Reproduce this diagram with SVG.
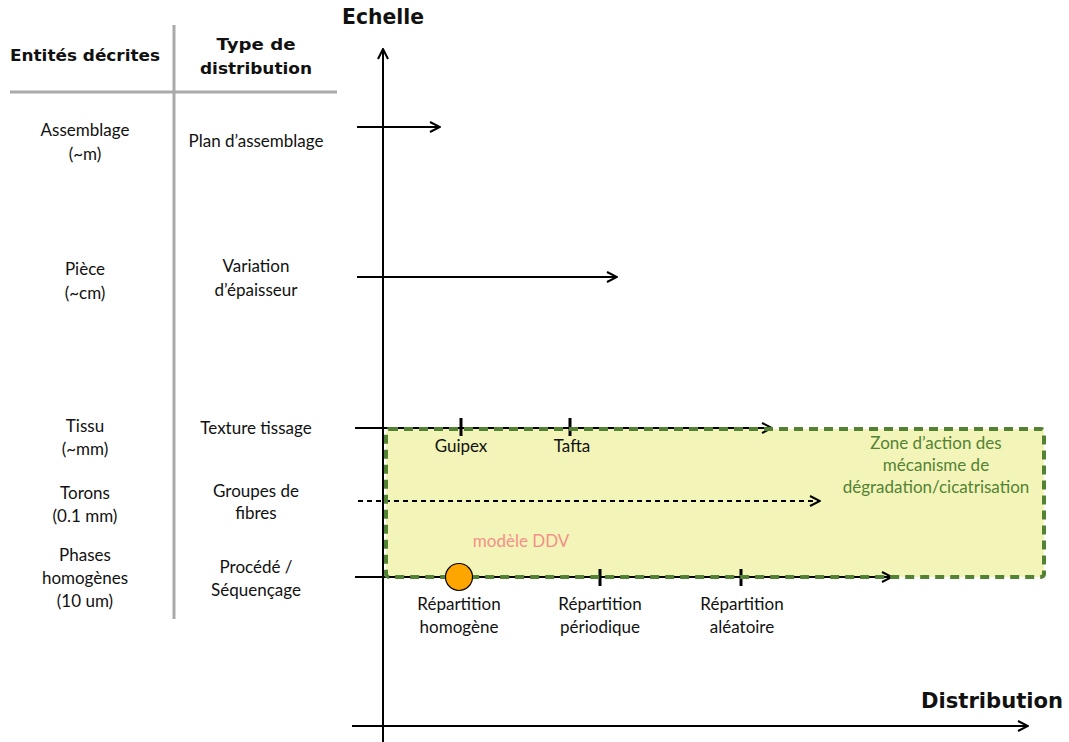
<svg xmlns="http://www.w3.org/2000/svg" width="1069" height="742" viewBox="0 0 1069 742">
<defs>
<marker id="ah" viewBox="0 0 12 12" refX="11" refY="6" markerWidth="12" markerHeight="12" markerUnits="userSpaceOnUse" orient="auto">
<path d="M1,1 L11,6 L1,11" fill="none" stroke="#000" stroke-width="2"/>
</marker>
<style>
text{font-family:Lato,"Open Sans","DejaVu Sans",sans-serif;font-size:17px;fill:#111;text-anchor:middle}
.b{font-family:"DejaVu Sans",sans-serif;font-weight:bold;font-size:16px}
.big{font-family:"DejaVu Sans",sans-serif;font-weight:bold;font-size:21px}
.grid{stroke:#aaa;stroke-width:3}
.ax{stroke:#000;stroke-width:2;fill:none;marker-end:url(#ah)}
.tick{stroke:#000;stroke-width:3}
.green{fill:#548235}
.pink{fill:#f4908a}
</style>
</defs>
<rect width="1069" height="742" fill="#fff"/>
<g id="table">
<line class="grid" x1="174" y1="25" x2="174" y2="619"/>
<line class="grid" x1="10" y1="92" x2="337" y2="92"/>
<text class="b" x="85" y="61" textLength="150" lengthAdjust="spacingAndGlyphs">Entités décrites</text>
<text class="b" x="256" y="50" textLength="79" lengthAdjust="spacingAndGlyphs">Type de</text>
<text class="b" x="256" y="74" textLength="112" lengthAdjust="spacingAndGlyphs">distribution</text>
</g>
<g id="zone-fill"><rect x="386" y="429" width="658" height="148" rx="3" fill="#f2f5b7"/></g>
<g id="rows">
<g id="row-assemblage"><text x="85" y="136">Assemblage</text><text x="85" y="160">(~m)</text><text x="256" y="147">Plan d’assemblage</text></g>
<g id="row-piece"><text x="85" y="275">Pièce</text><text x="85" y="299">(~cm)</text><text x="256" y="272">Variation</text><text x="256" y="296">d’épaisseur</text></g>
<g id="row-tissu"><text x="85" y="432">Tissu</text><text x="85" y="455">(~mm)</text><text x="256" y="434">Texture tissage</text></g>
<g id="row-torons"><text x="85" y="499">Torons</text><text x="85" y="522">(0.1 mm)</text><text x="256" y="497">Groupes de</text><text x="256" y="519">fibres</text></g>
<g id="row-phases"><text x="85" y="561">Phases</text><text x="85" y="584">homogènes</text><text x="85" y="607">(10 um)</text><text x="256" y="573">Procédé /</text><text x="256" y="596">Séquençage</text></g>
</g>
<g id="connectors">
<line class="ax" x1="383" y1="742" x2="383" y2="49"/>
<line class="ax" x1="352" y1="726" x2="1028" y2="726"/>
<line class="ax" x1="357" y1="127" x2="440" y2="127"/>
<line class="ax" x1="357" y1="277" x2="617" y2="277"/>
<line class="ax" x1="355" y1="428" x2="772" y2="428"/>
<line class="ax" x1="358" y1="501" x2="820" y2="501" stroke-dasharray="5,4"/>
<line class="ax" x1="355" y1="577" x2="892" y2="577"/>
<line class="tick" x1="461" y1="418" x2="461" y2="436"/>
<line class="tick" x1="570" y1="418" x2="570" y2="436"/>
<line class="tick" x1="600" y1="569" x2="600" y2="586"/>
<line class="tick" x1="741" y1="569" x2="741" y2="586"/>
</g>
<g id="zone"><rect x="386" y="429" width="658" height="148" rx="3" fill="none" stroke="#548235" stroke-width="4" stroke-dasharray="9,6"/>
<text class="green" x="936" y="449">Zone d’action des</text>
<text class="green" x="936" y="471">mécanisme de</text>
<text class="green" x="936" y="493">dégradation/cicatrisation</text>
</g>
<g id="labels">
<text class="big" x="383" y="24" textLength="82" lengthAdjust="spacingAndGlyphs">Echelle</text>
<text class="big" x="992" y="708" textLength="142" lengthAdjust="spacingAndGlyphs">Distribution</text>
<text x="461" y="452">Guipex</text>
<text x="572" y="452">Tafta</text>
<text class="pink" x="521" y="547">modèle DDV</text>
<text x="459" y="610">Répartition</text><text x="459" y="633">homogène</text>
<text x="600" y="610">Répartition</text><text x="600" y="633">périodique</text>
<text x="742" y="610">Répartition</text><text x="742" y="633">aléatoire</text>
</g>
<g id="ddv-point"><circle cx="459" cy="577" r="13.5" fill="#ffa500" stroke="#000" stroke-width="1.2"/></g>
</svg>
